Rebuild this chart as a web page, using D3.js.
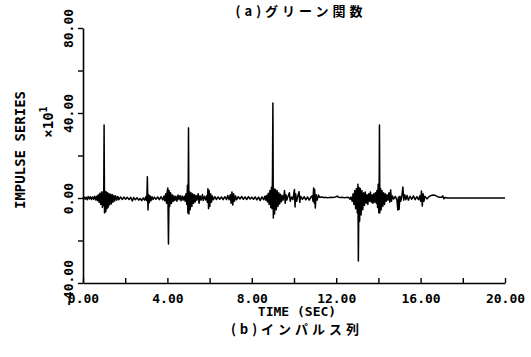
<!DOCTYPE html>
<html><head><meta charset="utf-8">
<script src="https://cdn.jsdelivr.net/npm/d3@7"></script>
<style>
body{margin:0;background:#fff;}
text{fill:#000;}
</style></head>
<body><svg id="chart" width="531" height="357"></svg>
<script>
// ---- data ----
const titleTop = "(a)グリーン関数";
const titleBottom = "(b)インパルス列";
const xLabel = "TIME  (SEC)";
const yLabel = "IMPULSE SERIES";
const xTicks = [0,2,4,6,8,10,12,14,16,18,20];
const xTickLabels = [0,4,8,12,16,20];
const yTicks = [-40,-20,0,20,40,60,80];
const yTickLabels = [-40,0,40,80];
// [time (sec), impulse (x10^1)]
const impulseSeries = [
[0.00,0.0],[0.05,0.5],[0.10,-0.6],[0.15,0.4],[0.20,-0.8],[0.25,0.7],[0.30,-0.5],[0.35,0.6],[0.40,-0.7],[0.45,0.5],
[0.50,-0.6],[0.55,0.8],[0.60,-0.9],[0.64,0.8],[0.68,-1.2],[0.72,1.5],[0.76,-2.0],[0.80,2.2],[0.84,-3.0],[0.88,2.8],
[0.92,-4.5],[0.96,3.0],[0.98,-3.5],[1.00,34.4],[1.02,-7.0],[1.05,3.2],[1.08,-6.5],[1.11,2.8],[1.14,-5.0],[1.17,2.5],
[1.20,-4.2],[1.23,2.0],[1.26,-3.2],[1.30,1.8],[1.34,-2.8],[1.38,1.6],[1.42,-2.0],[1.46,1.2],[1.50,-1.4],[1.55,1.0],
[1.60,-1.0],[1.65,0.7],[1.70,-0.8],[1.78,0.5],[1.86,-0.7],[1.94,0.4],[2.02,-0.6],[2.10,0.3],[2.18,-0.7],[2.26,0.3],
[2.34,-1.4],[2.40,0.2],[2.48,-0.8],[2.56,0.1],[2.64,-1.0],[2.70,-0.2],[2.78,-1.2],[2.86,0.0],[2.92,-1.0],[2.98,0.6],
[3.01,-1.2],[3.03,1.2],[3.05,10.0],[3.08,-5.6],[3.11,1.5],[3.14,-2.2],[3.18,1.0],[3.22,-1.3],[3.27,0.6],[3.32,-0.7],
[3.38,0.4],[3.46,-0.6],[3.54,0.5],[3.62,-0.8],[3.70,0.6],[3.78,-0.9],[3.84,0.9],[3.88,-1.3],[3.92,2.0],[3.96,-2.5],
[3.99,3.0],[4.02,4.7],[4.05,-21.6],[4.08,3.5],[4.11,-4.0],[4.15,2.5],[4.19,-2.6],[4.23,1.5],[4.27,-1.6],[4.31,1.0],
[4.35,-1.2],[4.40,0.8],[4.45,-1.5],[4.50,1.4],[4.55,-0.8],[4.60,1.2],[4.65,-1.3],[4.70,0.9],[4.75,-1.0],[4.80,0.8],
[4.84,-1.5],[4.88,2.0],[4.92,-3.0],[4.95,6.0],[4.97,-7.0],[4.99,9.5],[5.00,33.0],[5.02,-7.5],[5.05,3.0],[5.08,-5.5],
[5.12,2.5],[5.16,-4.0],[5.20,2.0],[5.24,-2.5],[5.28,1.5],[5.32,-1.8],[5.36,1.2],[5.40,-1.0],[5.46,2.0],[5.50,-2.5],
[5.55,1.0],[5.60,-1.0],[5.66,1.6],[5.70,-1.2],[5.76,0.8],[5.82,-0.9],[5.86,1.0],[5.89,-2.0],[5.92,4.3],[5.95,-5.0],
[5.98,3.5],[6.01,-4.0],[6.05,2.0],[6.09,-2.0],[6.13,1.0],[6.18,-0.8],[6.25,0.6],[6.32,-0.7],[6.40,0.5],[6.48,-0.6],
[6.56,0.5],[6.64,-0.8],[6.72,0.6],[6.80,-0.7],[6.86,1.2],[6.92,-0.8],[6.98,1.5],[7.02,-2.5],[7.06,2.8],[7.10,-3.3],
[7.14,2.0],[7.18,-1.5],[7.23,1.0],[7.28,-0.8],[7.36,0.6],[7.44,-0.5],[7.52,0.7],[7.60,-0.6],[7.68,0.5],[7.76,-0.7],
[7.84,0.6],[7.92,-0.5],[8.00,0.4],[8.08,-0.6],[8.16,0.5],[8.24,-0.9],[8.32,0.4],[8.40,-1.2],[8.48,0.5],[8.56,-0.8],
[8.62,0.8],[8.66,-1.0],[8.70,1.2],[8.74,-1.8],[8.78,2.2],[8.82,-3.0],[8.86,3.5],[8.90,-4.5],[8.93,5.0],[8.96,-5.0],
[8.98,11.0],[9.00,44.7],[9.02,-9.4],[9.05,4.5],[9.08,-7.5],[9.12,4.0],[9.16,-5.5],[9.20,3.5],[9.24,-4.0],[9.28,2.5],
[9.32,-2.8],[9.36,1.8],[9.40,-1.8],[9.44,1.2],[9.48,-1.0],[9.52,0.8],[9.55,3.5],[9.58,-2.5],[9.62,1.5],[9.66,-1.0],
[9.72,0.8],[9.78,2.5],[9.82,-1.5],[9.88,0.5],[9.95,-0.8],[10.02,4.0],[10.05,-4.2],[10.08,2.0],[10.12,-1.5],[10.18,0.8],
[10.24,3.0],[10.27,-2.0],[10.32,0.8],[10.40,-0.6],[10.48,0.6],[10.56,-0.9],[10.64,0.5],[10.72,-1.0],[10.80,0.4],[10.86,1.0],
[10.90,-1.5],[10.93,4.7],[10.96,-2.5],[10.98,4.0],[11.01,-4.7],[11.05,1.5],[11.10,-1.0],[11.16,1.4],[11.22,0.3],[11.30,0.5],
[11.40,0.2],[11.50,0.3],[11.60,0.1],[11.70,0.3],[11.80,0.2],[11.90,0.3],[12.00,0.6],[12.05,0.9],[12.10,0.4],[12.20,0.2],
[12.30,0.3],[12.40,0.1],[12.50,0.3],[12.60,0.2],[12.66,-0.6],[12.70,0.5],[12.76,-1.5],[12.80,2.0],[12.84,-3.0],[12.88,3.5],
[12.92,-5.0],[12.96,4.5],[13.00,-7.0],[13.03,6.5],[13.05,-29.6],[13.08,5.0],[13.11,-11.0],[13.14,4.5],[13.18,-8.0],[13.22,3.5],
[13.26,-5.5],[13.30,2.5],[13.34,-3.5],[13.38,2.8],[13.42,-2.5],[13.46,1.5],[13.50,-3.0],[13.54,2.0],[13.58,-1.5],[13.62,2.8],
[13.66,-2.0],[13.70,1.5],[13.74,-2.5],[13.78,2.0],[13.82,-2.0],[13.86,2.5],[13.90,-2.5],[13.93,3.5],[13.96,-4.5],[13.99,6.5],
[14.02,-7.0],[14.04,12.0],[14.05,34.4],[14.07,-7.0],[14.10,4.5],[14.13,-5.5],[14.17,3.5],[14.21,-4.0],[14.25,2.5],[14.29,-3.0],
[14.33,2.0],[14.37,-1.5],[14.41,1.5],[14.45,-1.0],[14.50,2.5],[14.54,-2.0],[14.58,3.8],[14.62,-1.5],[14.66,1.0],[14.72,-0.5],
[14.80,0.8],[14.88,-1.0],[14.92,-5.6],[14.95,0.5],[14.98,-5.4],[15.02,0.8],[15.06,-1.5],[15.12,1.5],[15.16,5.2],[15.20,-1.0],
[15.25,1.5],[15.30,-0.8],[15.36,1.2],[15.42,-1.0],[15.50,0.8],[15.58,-0.6],[15.66,1.0],[15.74,-0.8],[15.82,0.6],[15.90,-0.8],
[15.96,1.0],[16.00,-1.5],[16.04,3.3],[16.08,-3.8],[16.12,2.0],[16.16,-1.5],[16.20,0.8],[16.30,-0.4],[16.40,0.6],[16.50,1.2],
[16.60,1.4],[16.70,1.2],[16.80,0.6],[16.90,0.4],[17.00,0.3],[17.05,1.0],[17.10,-0.4],[17.15,0.2],[17.30,0.0],[20.00,0.0]
];

// ---- drawing ----
const svg = d3.select("#chart");
const mono = "'DejaVu Sans Mono', 'Liberation Mono', monospace";
const cjk = "'Noto Sans CJK JP', sans-serif";
const x = d3.scaleLinear().domain([0,20]).range([83,505]);
const y = d3.scaleLinear().domain([-40,80]).range([283,28]);

// trace
svg.append("path")
  .datum(impulseSeries)
  .attr("fill","none").attr("stroke","#000").attr("stroke-width",1.5)
  .attr("stroke-linejoin","round")
  .attr("d", d3.line().x(d=>x(d[0])).y(d=>y(d[1])));

// x axis
const xAxis = svg.append("g").attr("transform",`translate(0,${y(-40)})`)
  .call(d3.axisBottom(x).tickValues(xTicks).tickSize(-5).tickSizeOuter(0)
    .tickFormat(d => xTickLabels.includes(d) ? d.toFixed(2) : ""));
xAxis.select(".domain").attr("stroke","#000").attr("stroke-width",1.6);
xAxis.selectAll(".tick line").attr("stroke","#000").attr("stroke-width",1.4);
xAxis.selectAll(".tick text").attr("y",15).attr("dy","0.35em")
  .style("font-family",mono).style("font-size","13px").style("font-weight","bold");

// y axis
const yAxis = svg.append("g").attr("transform",`translate(${x(0)},0)`)
  .call(d3.axisLeft(y).tickValues(yTicks).tickSize(5).tickSizeOuter(0)
    .tickFormat(d => yTickLabels.includes(d) ? d.toFixed(2) : ""));
yAxis.select(".domain").attr("stroke","#000").attr("stroke-width",1.6);
yAxis.selectAll(".tick line").attr("stroke","#000").attr("stroke-width",1.4);
yAxis.selectAll(".tick text").attr("transform","rotate(-90)")
  .attr("x",0).attr("y",-15).attr("dy","0.35em").attr("text-anchor","middle")
  .style("font-family",mono).style("font-size","13px").style("font-weight","bold");

// y label
svg.append("text").attr("transform","translate(20,150) rotate(-90)")
  .attr("text-anchor","middle").attr("dy","0.35em")
  .style("font-family",mono).style("font-size","14px").style("font-weight","bold").text(yLabel);
const mult = svg.append("text").attr("transform","translate(48,122) rotate(-90)")
  .attr("text-anchor","middle").attr("dy","0.35em")
  .style("font-family",mono).style("font-size","14px").style("font-weight","bold");
mult.append("tspan").text("×10");
mult.append("tspan").attr("dy","-0.6em").style("font-size","10px").text("1");

// x label
svg.append("text").attr("x",297).attr("y",311).attr("dy","0.35em").attr("text-anchor","middle")
  .style("font-family",mono).style("font-size","13px").style("font-weight","bold").text(xLabel);

// titles
svg.append("text").attr("x",301).attr("y",11).attr("dy","0.35em").attr("text-anchor","middle")
  .style("font-family",cjk).style("font-size","13px")
  .style("letter-spacing","4px").style("font-weight","bold").text(titleTop);
svg.append("text").attr("x",297).attr("y",329).attr("dy","0.35em").attr("text-anchor","middle")
  .style("font-family",cjk).style("font-size","13px")
  .style("letter-spacing","4px").style("font-weight","bold").text(titleBottom);
</script></body></html>
